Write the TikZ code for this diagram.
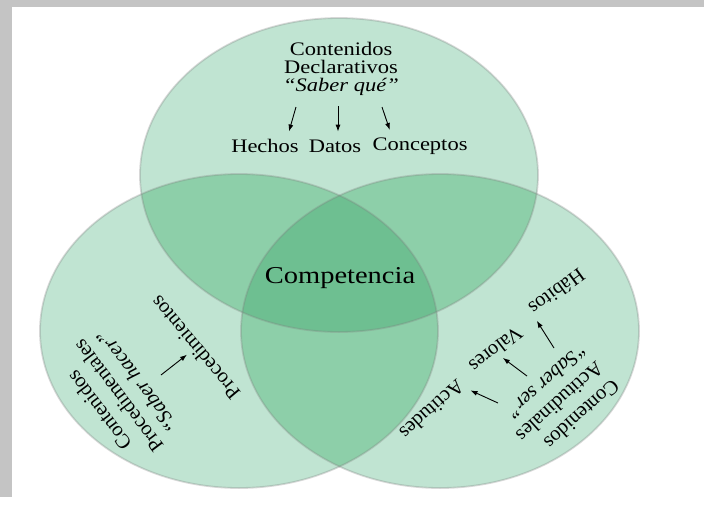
\documentclass[tikz,border=0pt]{standalone}
\usepackage{fontspec}
\setmainfont{Liberation Serif}
\usepackage{xcolor}
\usepackage{tikz}
\usetikzlibrary{arrows.meta}
\definecolor{vennone}{HTML}{C0E4D2}
\definecolor{venntwo}{HTML}{8DCFA9}
\definecolor{vennthree}{HTML}{6EBF91}
\colorlet{framegray}{black!23}
\newcommand\circD{(339,-175) ellipse [x radius=199, y radius=157]}
\newcommand\circP{(239,-331) ellipse [x radius=199, y radius=157]}
\newcommand\circA{(440,-331) ellipse [x radius=199, y radius=157]}
\tikzstyle{rim}=[draw=black!50, draw opacity=.3, line width=1.8pt]
\tikzstyle{lbl}=[font=\fontsize{20.5}{24}\selectfont, inner sep=1pt]
\tikzstyle{grp}=[lbl, align=center]
\tikzstyle{toptxt}=[font=\fontsize{22.5}{21.5}\selectfont, inner sep=1pt, yscale=.85, align=center]
\tikzstyle{arr}=[line width=.9pt, -{Latex[length=7pt,width=5pt]}]

\begin{document}
\begin{tikzpicture}[x=1pt,y=1pt]
	\useasboundingbox (0,0) rectangle (704,-504);
	\fill[white] (0,0) rectangle (704,-504);
	\fill[framegray] (0,0) rectangle (704,-7);
	\fill[framegray] (0,0) rectangle (12,-497);
	% circles and overlaps
	\fill[vennone] \circD; \fill[vennone] \circP; \fill[vennone] \circA;
	\begin{scope} \clip \circD; \fill[venntwo] \circP; \fill[venntwo] \circA; \end{scope}
	\begin{scope} \clip \circP; \fill[venntwo] \circA; \end{scope}
	\begin{scope} \clip \circD; \clip \circP; \fill[vennthree] \circA; \end{scope}
	\draw[rim] \circD; \draw[rim] \circP; \draw[rim] \circA;
	% declarativos
	\node[toptxt] (decl) at (341,-69) {Contenidos\\Declarativos\\\textit{“Saber qué”}};
	\node[toptxt] (hechos) at (265,-146) {Hechos};
	\node[toptxt] (datos) at (335,-146) {Datos};
	\node[toptxt] (conc) at (420,-146) {Conceptos};
	\coordinate (d1) at (296,-107);
	\coordinate (d2) at (338,-106);
	\coordinate (d3) at (382,-107);
	\draw[arr, shorten >=7pt] (d1) -- ([xshift=22pt]hechos.north);
	\draw[arr, shorten >=7pt] (d2) -- ([xshift=3pt]datos.north);
	\draw[arr, shorten >=7pt] (d3) -- ([xshift=-28pt]conc.north);
	\node[toptxt, font=\fontsize{28.5}{30}\selectfont] (comp) at (340,-278) {Competencia};
	% procedimentales
	\node[grp, rotate=127] (procc) at (118,-396) {Contenidos\\Procedimentales\\\textit{“Saber hacer”}};
	\node[lbl, rotate=130] (proced) at (195,-348) {Procedimientos};
	\coordinate (p1) at (161,-375);
	\draw[arr, shorten >=2pt] (p1) -- (proced.north);
	% actitudinales
	\node[grp, align=left, rotate=222] (actc) at (560,-402) {Contenidos\\Actitudinales\\\textit{“Saber ser”}};
	\node[lbl, rotate=216] (hab) at (557,-292) {Hábitos};
	\node[lbl, rotate=218] (val) at (496,-350) {Valores};
	\node[lbl, rotate=222] (act) at (432,-410) {Actitudes};
	\coordinate (a1) at (554,-348);
	\coordinate (a2) at (527,-376);
	\coordinate (a3) at (498,-403);
	\draw[arr, shorten >=3pt] (a1) -- (hab.north east);
	\draw[arr, shorten >=2pt] (a2) -- (val.north);
	\draw[arr, shorten >=3pt] (a3) -- (act.north west);
\end{tikzpicture}
\end{document}
